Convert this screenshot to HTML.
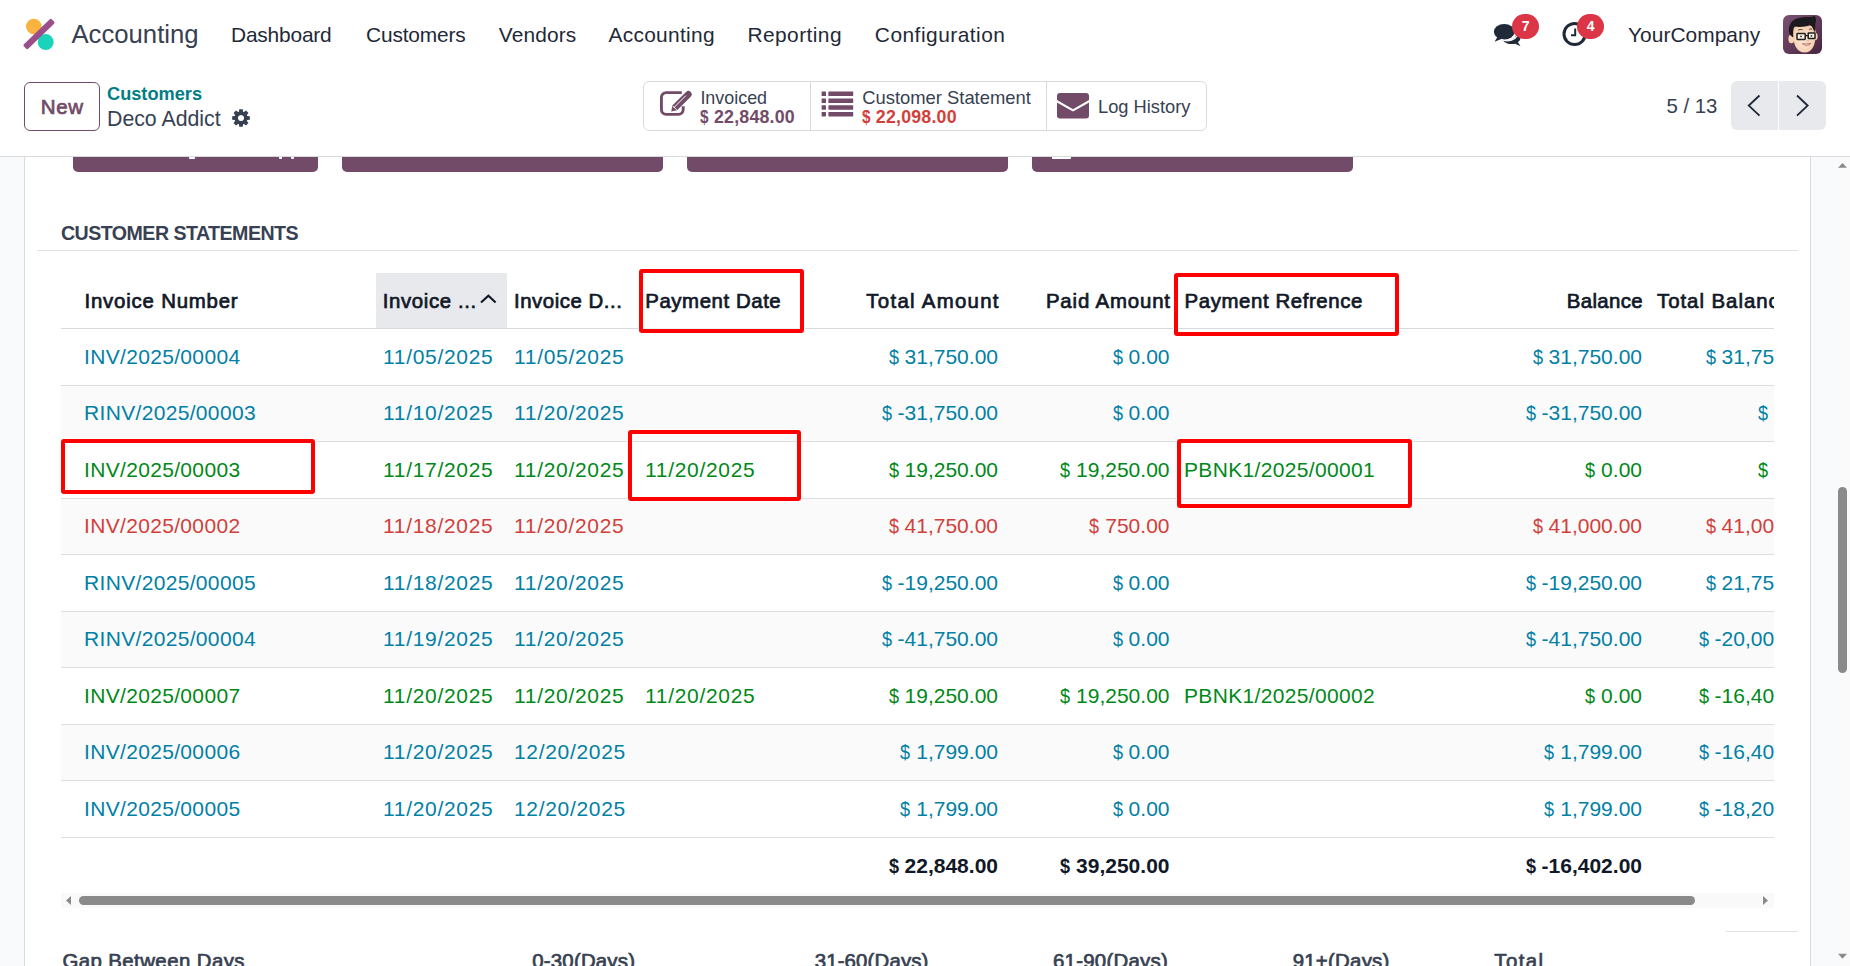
<!DOCTYPE html>
<html><head><meta charset="utf-8"><title>Accounting</title>
<style>
html,body{margin:0;padding:0;}
body{width:1850px;height:966px;overflow:hidden;position:relative;background:#fff;font-family:"Liberation Sans",sans-serif;}
.t{position:absolute;line-height:1;white-space:nowrap;}
.b{position:absolute;}
.d{display:inline-block;transform:scaleX(.86);transform-origin:0 0;margin-right:-1.6px;}
svg.b{display:block;overflow:visible;}
</style></head><body>
<svg class="b" style="left:18px;top:16px" width="40" height="40" viewBox="18 16 40 40">
<circle cx="33.8" cy="26.6" r="7.8" fill="#f9b43f"/>
<circle cx="45.7" cy="42.1" r="8" fill="#1ad3bb"/>
<rect x="19.6" y="30.9" width="38.8" height="6.2" rx="1.4" transform="rotate(-44 39 34)" fill="#9b4f8a"/>
</svg>
<div class="t" style="top:21.90px;font-size:25.7px;color:#374151;letter-spacing:0.012px;left:71.40px;">Accounting</div>
<div class="t" style="top:24.90px;font-size:20.9px;color:#1f2937;letter-spacing:-0.183px;left:231.00px;">Dashboard</div>
<div class="t" style="top:24.90px;font-size:20.9px;color:#1f2937;letter-spacing:-0.148px;left:366.00px;">Customers</div>
<div class="t" style="top:24.90px;font-size:20.9px;color:#1f2937;letter-spacing:0.116px;left:498.80px;">Vendors</div>
<div class="t" style="top:24.90px;font-size:20.9px;color:#1f2937;letter-spacing:0.309px;left:608.40px;">Accounting</div>
<div class="t" style="top:24.90px;font-size:20.9px;color:#1f2937;letter-spacing:0.432px;left:747.50px;">Reporting</div>
<div class="t" style="top:24.90px;font-size:20.9px;color:#1f2937;letter-spacing:0.493px;left:874.80px;">Configuration</div>
<div class="t" style="top:24.90px;font-size:20.9px;color:#1f2937;letter-spacing:0.048px;left:1628.00px;">YourCompany</div>
<div class="b" style="left:24px;top:82px;width:76px;height:49px;border:1px solid #714b67;border-radius:6px;box-sizing:border-box;"></div>
<div class="t" style="top:97.00px;font-size:20.5px;color:#714b67;-webkit-text-stroke:0.7px #714b67;letter-spacing:0.667px;left:40.70px;">New</div>
<div class="t" style="top:85.00px;font-size:18.2px;color:#017e84;font-weight:bold;left:107.00px;">Customers</div>
<div class="t" style="top:109.00px;font-size:21.3px;color:#374151;left:107.00px;">Deco Addict</div>
<svg class="b" style="left:231.8px;top:109.2px" width="18" height="18" viewBox="0 0 18 18">
<path fill-rule="evenodd" fill="#374151" d="M15.28,6.96 L17.83,7.24 L17.83,10.76 L15.28,11.04 L14.88,12.00 L16.48,14.00 L14.00,16.48 L12.00,14.88 L11.04,15.28 L10.76,17.83 L7.24,17.83 L6.96,15.28 L6.00,14.88 L4.00,16.48 L1.52,14.00 L3.12,12.00 L2.72,11.04 L0.17,10.76 L0.17,7.24 L2.72,6.96 L3.12,6.00 L1.52,4.00 L4.00,1.52 L6.00,3.12 L6.96,2.72 L7.24,0.17 L10.76,0.17 L11.04,2.72 L12.00,3.12 L14.00,1.52 L16.48,4.00 L14.88,6.00Z M9,5.9 A3.1,3.1 0 1 0 9.001,5.9Z"/></svg>
<div class="b" style="left:643px;top:81px;width:564px;height:50px;border:1px solid #d8dadd;border-radius:6px;box-sizing:border-box;"></div>
<div class="b" style="left:810px;top:82px;width:1px;height:48px;background:#d8dadd;"></div>
<div class="b" style="left:1046px;top:82px;width:1px;height:48px;background:#d8dadd;"></div>
<svg class="b" style="left:659px;top:90px" width="34" height="28" viewBox="0 0 34 28">
<path d="M22.8,2.6 H7.2 a4.8,4.8 0 0 0 -4.8,4.8 V19.6 a4.8,4.8 0 0 0 4.8,4.8 H19.4 a4.8,4.8 0 0 0 4.8,-4.8 V16.3" fill="none" stroke="#714b67" stroke-width="2.9"/>
<path d="M12.2,21.6 L13.4,15.6 L27.0,2.0 A3.3,3.3 0 0 1 31.7,6.7 L18.1,20.3 Z" fill="#714b67"/>
<path d="M14.6,17.9 L26.9,5.6" stroke="#fff" stroke-width="1.0"/>
<path d="M13.9,16.1 L17.6,19.8" stroke="#fff" stroke-width="1.0"/>
</svg>
<div class="t" style="top:89.60px;font-size:17.9px;color:#374151;left:700.40px;">Invoiced</div>
<div class="t" style="top:109.10px;font-size:17.8px;color:#714b67;font-weight:bold;left:700.40px;letter-spacing:0.2px;"><span class="d">$</span> 22,848.00</div>
<svg class="b" style="left:821px;top:90.5px" width="33" height="26" viewBox="0 0 33 26">
<g fill="#714b67"><rect x="0.6" y="0.5" width="4.4" height="4.6" rx="0.6"/><rect x="7.4" y="0.5" width="24.8" height="4.6" rx="0.6"/>
<rect x="0.6" y="7.4" width="4.4" height="4.6" rx="0.6"/><rect x="7.4" y="7.4" width="24.8" height="4.6" rx="0.6"/>
<rect x="0.6" y="14.2" width="4.4" height="4.5" rx="0.6"/><rect x="7.4" y="14.2" width="24.8" height="4.5" rx="0.6"/>
<rect x="0.6" y="20.9" width="4.4" height="4.5" rx="0.6"/><rect x="7.4" y="20.9" width="24.8" height="4.5" rx="0.6"/></g></svg>
<div class="t" style="top:88.80px;font-size:18.4px;color:#374151;left:862.20px;">Customer Statement</div>
<div class="t" style="top:108.60px;font-size:17.8px;color:#d23f3a;font-weight:bold;left:862.20px;letter-spacing:0.2px;"><span class="d">$</span> 22,098.00</div>
<svg class="b" style="left:1057px;top:93px" width="32" height="26" viewBox="0 0 32 26">
<rect x="0" y="0" width="32" height="25.5" rx="3" fill="#714b67"/>
<path d="M-0.5,8 L16,17.4 L32.5,8" fill="none" stroke="#fff" stroke-width="2.1" stroke-linejoin="round"/></svg>
<div class="t" style="top:98.10px;font-size:18.3px;color:#374151;left:1098.00px;">Log History</div>
<div class="t" style="top:96.00px;font-size:20.4px;color:#374151;left:1666.40px;">5 / 13</div>
<div class="b" style="left:1731px;top:81px;width:95px;height:49px;background:#e7e9ed;border-radius:6px;"></div>
<div class="b" style="left:1778px;top:81px;width:1.2px;height:49px;background:#fff;"></div>
<svg class="b" style="left:1740px;top:90px" width="80" height="32" viewBox="0 0 80 32">
<path d="M19.5,5.5 L8.8,15.6 L19.5,25.6" fill="none" stroke="#1f2937" stroke-width="1.9"/>
<path d="M57,5.5 L67.6,15.6 L57,25.6" fill="none" stroke="#1f2937" stroke-width="1.9"/></svg>
<svg class="b" style="left:1490px;top:18px" width="40" height="32" viewBox="0 0 40 32">
<g transform="translate(-3.4,-2)"><path d="M14,23.5 c1.5,0.9 3.5,1.3 6,1.3 c6,0 10,-3.5 10,-7.5 c0,-0.3 0,-0.7 -0.1,-1 c2.5,1.3 4,3.3 4,5.5 c0,1.8 -1,3.3 -2.6,4.5 l2.6,4 l-5.3,-2.6 c-1.2,0.3 -2.4,0.4 -3.7,0.4 c-4.2,0 -7.6,-1.8 -8.9,-4.6Z" fill="#1f2937"/></g>
<ellipse cx="14.2" cy="13.8" rx="10.3" ry="7.7" fill="#1f2937"/>
<path d="M7.4,19 L4.6,23.8 L11.8,20.8Z" fill="#1f2937"/>
<g transform="translate(-3.4,-2)"><path d="M14.5,23.2 c2,1.1 4,1.6 6.3,1.6 c6,0 10.4,-3.6 10.4,-8" fill="none" stroke="#fff" stroke-width="1.2"/></g>
</svg>
<div class="b" style="left:1512px;top:14px;width:27.2px;height:25.2px;background:#dc3545;border-radius:13px;"></div>
<div class="t" style="top:19.20px;font-size:14px;color:#fff;font-weight:bold;left:1525.60px;transform:translateX(-50%);">7</div>
<svg class="b" style="left:1560px;top:19px" width="30" height="30" viewBox="0 0 30 30">
<circle cx="14.6" cy="15" r="10.6" fill="none" stroke="#1f2937" stroke-width="3"/>
<path d="M15.2,9.5 V16.2 H11" fill="none" stroke="#1f2937" stroke-width="2"/></svg>
<div class="b" style="left:1577px;top:14px;width:27.2px;height:25.2px;background:#dc3545;border-radius:13px;"></div>
<div class="t" style="top:19.20px;font-size:14px;color:#fff;font-weight:bold;left:1590.60px;transform:translateX(-50%);">4</div>
<svg class="b" style="left:1783px;top:15px" width="39" height="39" viewBox="0 0 39 39">
<defs><linearGradient id="ag" x1="0" y1="0" x2="1" y2="1"><stop offset="0" stop-color="#7a5372"/><stop offset="1" stop-color="#4a2340"/></linearGradient>
<radialGradient id="sk" cx="0.45" cy="0.55" r="0.65"><stop offset="0" stop-color="#fde8d3"/><stop offset="1" stop-color="#f3c8a6"/></radialGradient></defs>
<rect width="39" height="39" rx="6" fill="url(#ag)"/>
<ellipse cx="8.4" cy="24" rx="3" ry="4.2" fill="#f6d2b4"/>
<ellipse cx="32.6" cy="21.5" rx="2" ry="3.4" fill="#f6d2b4"/>
<path d="M10,16 C9.6,29 13.5,37.6 21.8,37.6 C29,37.6 32.8,30 32.8,18 C32.8,12 28,9.5 21,9.5 C14,9.5 10.2,11.5 10,16Z" fill="url(#sk)"/>
<path d="M6,17 C4.8,8.5 10.5,2.6 20.5,2.2 C26,2 29.5,2.6 31,0.8 C33.5,2.6 33.6,6.5 32.2,9 C32.6,12 32,15 31.4,17.5 C30.2,13.5 29,11 27,10.3 C22,12.4 15,12.2 11,11.6 C10.2,14.5 10,18 10.3,22.5 C8.2,21.5 6.4,19.6 6,17Z" fill="#1c1a1e"/>
<path d="M15.2,15.2 C16.6,14.4 18.2,14.3 19.6,14.8" fill="none" stroke="#3a2a2a" stroke-width="1"/>
<path d="M26.2,14.3 C27.2,13.8 28.2,13.9 29,14.3" fill="none" stroke="#3a2a2a" stroke-width="1"/>
<rect x="14" y="18.6" width="8.2" height="5.8" rx="0.6" fill="#fbeee4" stroke="#1e1e1e" stroke-width="1.5"/>
<rect x="25.2" y="18" width="6.8" height="5.6" rx="0.6" fill="#fbeee4" stroke="#1e1e1e" stroke-width="1.5"/>
<path d="M22.2,20.6 H25.2" stroke="#1e1e1e" stroke-width="1.3"/>
<circle cx="18" cy="21.4" r="0.9" fill="#333"/><circle cx="28.4" cy="20.8" r="0.9" fill="#333"/>
<path d="M23.2,25.6 C24.2,26.3 25.4,26.3 26.3,25.6" fill="none" stroke="#e3a58a" stroke-width="0.9"/>
<path d="M19.4,28.6 C22,30.9 25.6,30.9 27.8,28.3 C25,29 22,29.1 19.4,28.6Z" fill="#fff" stroke="#a9534f" stroke-width="0.8"/>
</svg>
<div class="b" style="left:0px;top:156px;width:1850px;height:1px;background:#d8dadd;"></div>
<div class="b" style="left:0px;top:157px;width:24px;height:809px;background:#f9fafb;"></div>
<div class="b" style="left:24px;top:157px;width:1px;height:809px;background:#d8dadd;"></div>
<div class="b" style="left:1810px;top:157px;width:1px;height:809px;background:#d8dadd;"></div>
<div class="b" style="left:1811px;top:157px;width:24px;height:809px;background:#f9fafb;"></div>
<div class="b" style="left:1835px;top:157px;width:15px;height:809px;background:#fafafa;"></div>
<svg class="b" style="left:1835px;top:157px" width="15" height="809" viewBox="0 0 15 809">
<path d="M3,10.8 L7.5,5.9 L12,10.8Z" fill="#8a8a8a"/>
<path d="M3,796.8 L12,796.8 L7.5,801.8Z" fill="#8a8a8a"/></svg>
<div class="b" style="left:1838px;top:487px;width:9px;height:186px;background:#8a8a8a;border-radius:4.5px;"></div>
<div class="b" style="left:73px;top:157px;width:245px;height:15px;background:#714b67;border-radius:0 0 5px 5px;"></div>
<div class="b" style="left:342px;top:157px;width:321px;height:15px;background:#714b67;border-radius:0 0 5px 5px;"></div>
<div class="b" style="left:687px;top:157px;width:321px;height:15px;background:#714b67;border-radius:0 0 5px 5px;"></div>
<div class="b" style="left:1032px;top:157px;width:321px;height:15px;background:#714b67;border-radius:0 0 5px 5px;"></div>
<div class="b" style="left:188.5px;top:157px;width:6.0px;height:2px;background:#fff;border-radius:0 0 1px 1px;"></div>
<div class="b" style="left:278.7px;top:157px;width:3.0px;height:2px;background:#fff;border-radius:0 0 1px 1px;"></div>
<div class="b" style="left:291.2px;top:157px;width:3.0px;height:2px;background:#fff;border-radius:0 0 1px 1px;"></div>
<div class="b" style="left:1052.3px;top:157px;width:18.40000000000009px;height:2px;background:#fff;border-radius:0 0 1px 1px;"></div>
<div class="t" style="top:224.00px;font-size:19.6px;color:#374151;font-weight:bold;letter-spacing:-0.531px;left:61.00px;">CUSTOMER STATEMENTS</div>
<div class="b" style="left:37px;top:249.5px;width:1761px;height:1px;background:#dee2e6;"></div>
<div class="b" style="left:61px;top:260px;width:1713px;height:650px;overflow:hidden">
<div class="b" style="left:315px;top:13px;width:131px;height:55px;background:#e7e9ed;"></div>
<div class="b" style="left:0px;top:68px;width:1713px;height:1px;background:#d8dadd;"></div>
<div class="t" style="top:30.80px;font-size:20.4px;color:#111827;letter-spacing:0.797px;-webkit-text-stroke:0.7px #111827;left:23.50px;">Invoice Number</div>
<div class="t" style="top:30.80px;font-size:20.4px;color:#111827;letter-spacing:0.607px;-webkit-text-stroke:0.7px #111827;left:321.80px;">Invoice ...</div>
<div class="t" style="top:30.80px;font-size:20.4px;color:#111827;letter-spacing:0.538px;-webkit-text-stroke:0.7px #111827;left:453.00px;">Invoice D...</div>
<div class="t" style="top:30.80px;font-size:20.4px;color:#111827;letter-spacing:0.564px;-webkit-text-stroke:0.7px #111827;left:584.30px;">Payment Date</div>
<div class="t" style="top:30.80px;font-size:20.4px;color:#111827;letter-spacing:1.299px;-webkit-text-stroke:0.7px #111827;right:774.20px;">Total Amount</div>
<div class="t" style="top:30.80px;font-size:20.4px;color:#111827;letter-spacing:0.851px;-webkit-text-stroke:0.7px #111827;right:603.15px;">Paid Amount</div>
<div class="t" style="top:30.80px;font-size:20.4px;color:#111827;letter-spacing:0.599px;-webkit-text-stroke:0.7px #111827;left:1123.50px;">Payment Refrence</div>
<div class="t" style="top:30.80px;font-size:20.4px;color:#111827;letter-spacing:0.328px;-webkit-text-stroke:0.7px #111827;right:131.17px;">Balance</div>
<div class="t" style="top:30.80px;font-size:20.4px;color:#111827;letter-spacing:0.965px;-webkit-text-stroke:0.7px #111827;left:1596.00px;">Total Balance</div>
<svg class="b" style="left:419px;top:32px" width="18" height="14" viewBox="0 0 18 14"><path d="M1,10.6 L8.4,3.8 L15.6,10.6" fill="none" stroke="#111827" stroke-width="2.1"/></svg>
<div class="b" style="left:0px;top:125px;width:1713px;height:1px;background:#dcdde0;"></div>
<div class="t" style="top:85.50px;font-size:21px;color:#0180a5;left:23.00px;letter-spacing:0.33px;">INV/2025/00004</div>
<div class="t" style="top:85.50px;font-size:21px;color:#0180a5;left:322.00px;letter-spacing:0.68px;">11/05/2025</div>
<div class="t" style="top:85.50px;font-size:21px;color:#0180a5;left:453.00px;letter-spacing:0.68px;">11/05/2025</div>
<div class="t" style="top:85.50px;font-size:21px;color:#0180a5;right:776.00px;"><span class="d">$</span> 31,750.00</div>
<div class="t" style="top:85.50px;font-size:21px;color:#0180a5;right:604.50px;"><span class="d">$</span> 0.00</div>
<div class="t" style="top:85.50px;font-size:21px;color:#0180a5;right:132.00px;"><span class="d">$</span> 31,750.00</div>
<div class="t" style="top:85.50px;font-size:21px;color:#0180a5;right:-41.00px;"><span class="d">$</span> 31,750.00</div>
<div class="b" style="left:0px;top:126px;width:1713px;height:55px;background:#fafafa;"></div>
<div class="b" style="left:0px;top:181px;width:1713px;height:1px;background:#dcdde0;"></div>
<div class="t" style="top:141.50px;font-size:21px;color:#0180a5;left:23.00px;letter-spacing:0.33px;">RINV/2025/00003</div>
<div class="t" style="top:141.50px;font-size:21px;color:#0180a5;left:322.00px;letter-spacing:0.68px;">11/10/2025</div>
<div class="t" style="top:141.50px;font-size:21px;color:#0180a5;left:453.00px;letter-spacing:0.68px;">11/20/2025</div>
<div class="t" style="top:141.50px;font-size:21px;color:#0180a5;right:776.00px;"><span class="d">$</span> -31,750.00</div>
<div class="t" style="top:141.50px;font-size:21px;color:#0180a5;right:604.50px;"><span class="d">$</span> 0.00</div>
<div class="t" style="top:141.50px;font-size:21px;color:#0180a5;right:132.00px;"><span class="d">$</span> -31,750.00</div>
<div class="t" style="top:141.50px;font-size:21px;color:#0180a5;right:-41.00px;"><span class="d">$</span> 0.00</div>
<div class="b" style="left:0px;top:238px;width:1713px;height:1px;background:#dcdde0;"></div>
<div class="t" style="top:198.50px;font-size:21px;color:#008818;left:23.00px;letter-spacing:0.33px;">INV/2025/00003</div>
<div class="t" style="top:198.50px;font-size:21px;color:#008818;left:322.00px;letter-spacing:0.68px;">11/17/2025</div>
<div class="t" style="top:198.50px;font-size:21px;color:#008818;left:453.00px;letter-spacing:0.68px;">11/20/2025</div>
<div class="t" style="top:198.50px;font-size:21px;color:#008818;left:584.00px;letter-spacing:0.68px;">11/20/2025</div>
<div class="t" style="top:198.50px;font-size:21px;color:#008818;right:776.00px;"><span class="d">$</span> 19,250.00</div>
<div class="t" style="top:198.50px;font-size:21px;color:#008818;right:604.50px;"><span class="d">$</span> 19,250.00</div>
<div class="t" style="top:198.50px;font-size:21px;color:#008818;left:1123.00px;letter-spacing:0.33px;">PBNK1/2025/00001</div>
<div class="t" style="top:198.50px;font-size:21px;color:#008818;right:132.00px;"><span class="d">$</span> 0.00</div>
<div class="t" style="top:198.50px;font-size:21px;color:#008818;right:-41.00px;"><span class="d">$</span> 0.00</div>
<div class="b" style="left:0px;top:239px;width:1713px;height:55px;background:#fafafa;"></div>
<div class="b" style="left:0px;top:294px;width:1713px;height:1px;background:#dcdde0;"></div>
<div class="t" style="top:254.50px;font-size:21px;color:#d23f3a;left:23.00px;letter-spacing:0.33px;">INV/2025/00002</div>
<div class="t" style="top:254.50px;font-size:21px;color:#d23f3a;left:322.00px;letter-spacing:0.68px;">11/18/2025</div>
<div class="t" style="top:254.50px;font-size:21px;color:#d23f3a;left:453.00px;letter-spacing:0.68px;">11/20/2025</div>
<div class="t" style="top:254.50px;font-size:21px;color:#d23f3a;right:776.00px;"><span class="d">$</span> 41,750.00</div>
<div class="t" style="top:254.50px;font-size:21px;color:#d23f3a;right:604.50px;"><span class="d">$</span> 750.00</div>
<div class="t" style="top:254.50px;font-size:21px;color:#d23f3a;right:132.00px;"><span class="d">$</span> 41,000.00</div>
<div class="t" style="top:254.50px;font-size:21px;color:#d23f3a;right:-41.00px;"><span class="d">$</span> 41,000.00</div>
<div class="b" style="left:0px;top:351px;width:1713px;height:1px;background:#dcdde0;"></div>
<div class="t" style="top:311.50px;font-size:21px;color:#0180a5;left:23.00px;letter-spacing:0.33px;">RINV/2025/00005</div>
<div class="t" style="top:311.50px;font-size:21px;color:#0180a5;left:322.00px;letter-spacing:0.68px;">11/18/2025</div>
<div class="t" style="top:311.50px;font-size:21px;color:#0180a5;left:453.00px;letter-spacing:0.68px;">11/20/2025</div>
<div class="t" style="top:311.50px;font-size:21px;color:#0180a5;right:776.00px;"><span class="d">$</span> -19,250.00</div>
<div class="t" style="top:311.50px;font-size:21px;color:#0180a5;right:604.50px;"><span class="d">$</span> 0.00</div>
<div class="t" style="top:311.50px;font-size:21px;color:#0180a5;right:132.00px;"><span class="d">$</span> -19,250.00</div>
<div class="t" style="top:311.50px;font-size:21px;color:#0180a5;right:-41.00px;"><span class="d">$</span> 21,750.00</div>
<div class="b" style="left:0px;top:352px;width:1713px;height:55px;background:#fafafa;"></div>
<div class="b" style="left:0px;top:407px;width:1713px;height:1px;background:#dcdde0;"></div>
<div class="t" style="top:367.50px;font-size:21px;color:#0180a5;left:23.00px;letter-spacing:0.33px;">RINV/2025/00004</div>
<div class="t" style="top:367.50px;font-size:21px;color:#0180a5;left:322.00px;letter-spacing:0.68px;">11/19/2025</div>
<div class="t" style="top:367.50px;font-size:21px;color:#0180a5;left:453.00px;letter-spacing:0.68px;">11/20/2025</div>
<div class="t" style="top:367.50px;font-size:21px;color:#0180a5;right:776.00px;"><span class="d">$</span> -41,750.00</div>
<div class="t" style="top:367.50px;font-size:21px;color:#0180a5;right:604.50px;"><span class="d">$</span> 0.00</div>
<div class="t" style="top:367.50px;font-size:21px;color:#0180a5;right:132.00px;"><span class="d">$</span> -41,750.00</div>
<div class="t" style="top:367.50px;font-size:21px;color:#0180a5;right:-41.00px;"><span class="d">$</span> -20,000.00</div>
<div class="b" style="left:0px;top:464px;width:1713px;height:1px;background:#dcdde0;"></div>
<div class="t" style="top:424.50px;font-size:21px;color:#008818;left:23.00px;letter-spacing:0.33px;">INV/2025/00007</div>
<div class="t" style="top:424.50px;font-size:21px;color:#008818;left:322.00px;letter-spacing:0.68px;">11/20/2025</div>
<div class="t" style="top:424.50px;font-size:21px;color:#008818;left:453.00px;letter-spacing:0.68px;">11/20/2025</div>
<div class="t" style="top:424.50px;font-size:21px;color:#008818;left:584.00px;letter-spacing:0.68px;">11/20/2025</div>
<div class="t" style="top:424.50px;font-size:21px;color:#008818;right:776.00px;"><span class="d">$</span> 19,250.00</div>
<div class="t" style="top:424.50px;font-size:21px;color:#008818;right:604.50px;"><span class="d">$</span> 19,250.00</div>
<div class="t" style="top:424.50px;font-size:21px;color:#008818;left:1123.00px;letter-spacing:0.33px;">PBNK1/2025/00002</div>
<div class="t" style="top:424.50px;font-size:21px;color:#008818;right:132.00px;"><span class="d">$</span> 0.00</div>
<div class="t" style="top:424.50px;font-size:21px;color:#008818;right:-41.00px;"><span class="d">$</span> -16,402.00</div>
<div class="b" style="left:0px;top:465px;width:1713px;height:55px;background:#fafafa;"></div>
<div class="b" style="left:0px;top:520px;width:1713px;height:1px;background:#dcdde0;"></div>
<div class="t" style="top:480.50px;font-size:21px;color:#0180a5;left:23.00px;letter-spacing:0.33px;">INV/2025/00006</div>
<div class="t" style="top:480.50px;font-size:21px;color:#0180a5;left:322.00px;letter-spacing:0.68px;">11/20/2025</div>
<div class="t" style="top:480.50px;font-size:21px;color:#0180a5;left:453.00px;letter-spacing:0.68px;">12/20/2025</div>
<div class="t" style="top:480.50px;font-size:21px;color:#0180a5;right:776.00px;"><span class="d">$</span> 1,799.00</div>
<div class="t" style="top:480.50px;font-size:21px;color:#0180a5;right:604.50px;"><span class="d">$</span> 0.00</div>
<div class="t" style="top:480.50px;font-size:21px;color:#0180a5;right:132.00px;"><span class="d">$</span> 1,799.00</div>
<div class="t" style="top:480.50px;font-size:21px;color:#0180a5;right:-41.00px;"><span class="d">$</span> -16,402.00</div>
<div class="b" style="left:0px;top:577px;width:1713px;height:1px;background:#dcdde0;"></div>
<div class="t" style="top:537.50px;font-size:21px;color:#0180a5;left:23.00px;letter-spacing:0.33px;">INV/2025/00005</div>
<div class="t" style="top:537.50px;font-size:21px;color:#0180a5;left:322.00px;letter-spacing:0.68px;">11/20/2025</div>
<div class="t" style="top:537.50px;font-size:21px;color:#0180a5;left:453.00px;letter-spacing:0.68px;">12/20/2025</div>
<div class="t" style="top:537.50px;font-size:21px;color:#0180a5;right:776.00px;"><span class="d">$</span> 1,799.00</div>
<div class="t" style="top:537.50px;font-size:21px;color:#0180a5;right:604.50px;"><span class="d">$</span> 0.00</div>
<div class="t" style="top:537.50px;font-size:21px;color:#0180a5;right:132.00px;"><span class="d">$</span> 1,799.00</div>
<div class="t" style="top:537.50px;font-size:21px;color:#0180a5;right:-41.00px;"><span class="d">$</span> -18,201.00</div>
<div class="t" style="top:595.30px;font-size:21px;color:#111827;font-weight:bold;right:776.00px;"><span class="d">$</span> 22,848.00</div>
<div class="t" style="top:595.30px;font-size:21px;color:#111827;font-weight:bold;right:604.50px;"><span class="d">$</span> 39,250.00</div>
<div class="t" style="top:595.30px;font-size:21px;color:#111827;font-weight:bold;right:132.00px;"><span class="d">$</span> -16,402.00</div>
<div class="b" style="left:0px;top:633px;width:1713px;height:15px;background:#f9f9f9;"></div>
<div class="b" style="left:18px;top:636px;width:1616px;height:9px;background:#8a8a8a;border-radius:4.5px;"></div>
<svg class="b" style="left:1px;top:633px" width="1712" height="15" viewBox="0 0 1712 15"><path d="M4,7.5 L9,3 L9,12Z" fill="#8a8a8a"/><path d="M1701,3 L1706,7.5 L1701,12Z" fill="#8a8a8a"/></svg>
</div>
<div class="b" style="left:639px;top:269px;width:165px;height:64px;border:4px solid #ff0000;box-sizing:border-box;border-radius:3px;box-shadow:0 0 0 1px rgba(255,255,255,0.9), inset 0 0 0 1px rgba(255,255,255,0.6);"></div>
<div class="b" style="left:1174px;top:273px;width:225px;height:63px;border:4px solid #ff0000;box-sizing:border-box;border-radius:3px;box-shadow:0 0 0 1px rgba(255,255,255,0.9), inset 0 0 0 1px rgba(255,255,255,0.6);"></div>
<div class="b" style="left:61px;top:439px;width:254px;height:55px;border:4px solid #ff0000;box-sizing:border-box;border-radius:3px;box-shadow:0 0 0 1px rgba(255,255,255,0.9), inset 0 0 0 1px rgba(255,255,255,0.6);"></div>
<div class="b" style="left:628px;top:430px;width:173px;height:71px;border:4px solid #ff0000;box-sizing:border-box;border-radius:3px;box-shadow:0 0 0 1px rgba(255,255,255,0.9), inset 0 0 0 1px rgba(255,255,255,0.6);"></div>
<div class="b" style="left:1177px;top:439px;width:235px;height:69px;border:4px solid #ff0000;box-sizing:border-box;border-radius:3px;box-shadow:0 0 0 1px rgba(255,255,255,0.9), inset 0 0 0 1px rgba(255,255,255,0.6);"></div>
<div class="b" style="left:1726px;top:930.5px;width:72px;height:1px;background:#dee2e6;"></div>
<div class="t" style="top:950.50px;font-size:20.4px;color:#374151;-webkit-text-stroke:0.7px #374151;letter-spacing:0.430px;left:62.40px;">Gap Between Days</div>
<div class="t" style="top:950.50px;font-size:20.4px;color:#374151;-webkit-text-stroke:0.7px #374151;letter-spacing:0.201px;left:532.30px;">0-30(Days)</div>
<div class="t" style="top:950.50px;font-size:20.4px;color:#374151;-webkit-text-stroke:0.7px #374151;letter-spacing:0.151px;left:814.70px;">31-60(Days)</div>
<div class="t" style="top:950.50px;font-size:20.4px;color:#374151;-webkit-text-stroke:0.7px #374151;letter-spacing:0.251px;left:1053.00px;">61-90(Days)</div>
<div class="t" style="top:950.50px;font-size:20.4px;color:#374151;-webkit-text-stroke:0.7px #374151;letter-spacing:0.249px;left:1292.70px;">91+(Days)</div>
<div class="t" style="top:950.50px;font-size:20.4px;color:#374151;-webkit-text-stroke:0.7px #374151;letter-spacing:1.424px;left:1494.30px;">Total</div>
</body></html>
